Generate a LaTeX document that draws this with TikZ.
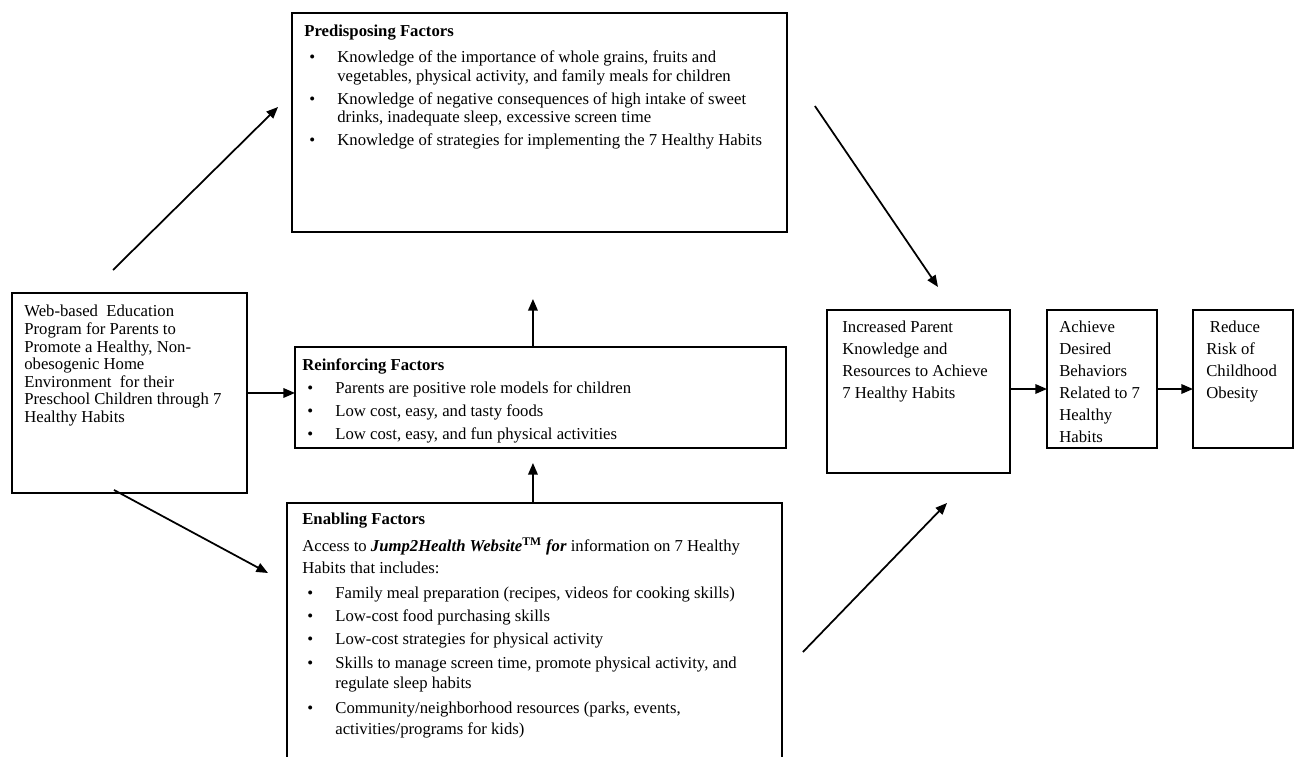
\documentclass[tikz,border=0pt]{standalone}
\usepackage{fontspec}
\setmainfont{Liberation Serif}
\usetikzlibrary{arrows.meta}

\newcommand{\bul}{\hspace*{2.8pt}\makebox[16pt][l]{\textbullet}}
\newcommand{\cont}{\hspace*{18.8pt}}

\begin{document}
\begin{tikzpicture}[
    x=0.02cm, y=-0.02cm,
    >={Triangle[length=6.6pt,width=5.4pt]},
    box/.style={draw, line width=0.9pt, rectangle, anchor=north west, inner sep=0pt, outer sep=0pt},
    txt/.style={anchor=north west, inner sep=0pt, align=left, font=\fontsize{9.5}{10.3}\selectfont},
    link/.style={->, line width=1pt}
]
    \useasboundingbox (0,0) rectangle (1295,757);
    \clip (0,0) rectangle (1295,757);

    % boxes
    \node[box, minimum width=4.70cm, minimum height=4.00cm] (web) at (12,293) {};
    \node[box, minimum width=9.90cm, minimum height=4.38cm] (pred) at (292,13) {};
    \node[box, minimum width=9.82cm, minimum height=2.02cm] (reinf) at (295,347) {};
    \node[box, minimum width=9.90cm, minimum height=5.40cm] (enab) at (287,503) {};
    \node[box, minimum width=3.66cm, minimum height=3.26cm] (incr) at (827,310) {};
    \node[box, minimum width=2.20cm, minimum height=2.76cm] (achv) at (1047,310) {};
    \node[box, minimum width=2.00cm, minimum height=2.76cm] (redu) at (1193,310) {};

    % texts
    \node[txt, font=\fontsize{9.5}{10}\selectfont] (webtxt) at ([shift={(12,12)}]web.north west) {Web-based\ \ Education\\
        Program for Parents to\\
        Promote a Healthy, Non-\\
        obesogenic Home\\
        Environment\ \ for their\\
        Preschool Children through 7\\
        Healthy Habits};
    \node[txt] (predtxt) at ([shift={(12,12)}]pred.north west) {\textbf{Predisposing Factors}\\[4.5pt]
        \bul Knowledge of the importance of whole grains, fruits and\\
        \cont vegetables, physical activity, and family meals for children\\[2.8pt]
        \bul Knowledge of negative consequences of high intake of sweet\\
        \cont drinks, inadequate sleep, excessive screen time\\[2.8pt]
        \bul Knowledge of strategies for implementing the 7 Healthy Habits};
    \node[txt] (reinftxt) at ([shift={(7,11)}]reinf.north west) {\textbf{Reinforcing Factors}\\[2.8pt]
        \bul Parents are positive role models for children\\[2.8pt]
        \bul Low cost, easy, and tasty foods\\[2.8pt]
        \bul Low cost, easy, and fun physical activities};
    \node[txt] (enabtxt) at ([shift={(15,10)}]enab.north west) {\textbf{Enabling Factors}\\[5.1pt]
        Access to \textbf{\textit{Jump2Health Website}}\textsuperscript{\textbf{TM}} \textbf{\textit{for}} information on 7 Healthy\\[2.2pt]
        Habits that includes:\\[3.4pt]
        \bul Family meal preparation (recipes, videos for cooking skills)\\[2.8pt]
        \bul Low-cost food purchasing skills\\[2.8pt]
        \bul Low-cost strategies for physical activity\\[3.4pt]
        \bul Skills to manage screen time, promote physical activity, and\\[1.1pt]
        \cont regulate sleep habits\\[3.9pt]
        \bul Community/neighborhood resources (parks, events,\\[1.7pt]
        \cont activities/programs for kids)};
    \node[txt, font=\fontsize{9.5}{12.5}\selectfont] (incrtxt) at ([shift={(15,11)}]incr.north west) {Increased Parent\\
        Knowledge and\\
        Resources to Achieve\\
        7 Healthy Habits};
    \node[txt, font=\fontsize{9.5}{12.5}\selectfont] (achvtxt) at ([shift={(12,11)}]achv.north west) {Achieve\\
        Desired\\
        Behaviors\\
        Related to 7\\
        Healthy\\
        Habits};
    \node[txt, font=\fontsize{9.5}{12.5}\selectfont] (redutxt) at ([shift={(13,11)}]redu.north west) {\hspace*{2pt}Reduce\\
        Risk of\\
        Childhood\\
        Obesity};

    % connectors
    \draw[link] ([shift={(101,-23)}]web.north west) -- ([shift={(-14,94)}]pred.north west);
    \draw[link] (web.east) -- (web.east -| reinf.west);
    \draw[link] ([shift={(102,-3)}]web.south west) -- ([shift={(-19,70)}]enab.north west);
    \draw[link] ([shift={(-1.5,0)}]enab.north) -- ([shift={(-7.5,15)}]reinf.south);
    \draw[link] ([shift={(-7.5,0)}]reinf.north) -- ([shift={(-6.5,67)}]pred.south);
    \draw[link] ([shift={(28,93)}]pred.north east) -- ([shift={(111,-23)}]incr.north west);
    \draw[link] ([shift={(21,149)}]enab.north east) -- ([shift={(120,30)}]incr.south west);
    \draw[link] ([shift={(0,79)}]incr.north east) -- ([shift={(0,79)}]achv.north west);
    \draw[link] ([shift={(0,79)}]achv.north east) -- ([shift={(0,79)}]redu.north west);

\end{tikzpicture}
\end{document}
